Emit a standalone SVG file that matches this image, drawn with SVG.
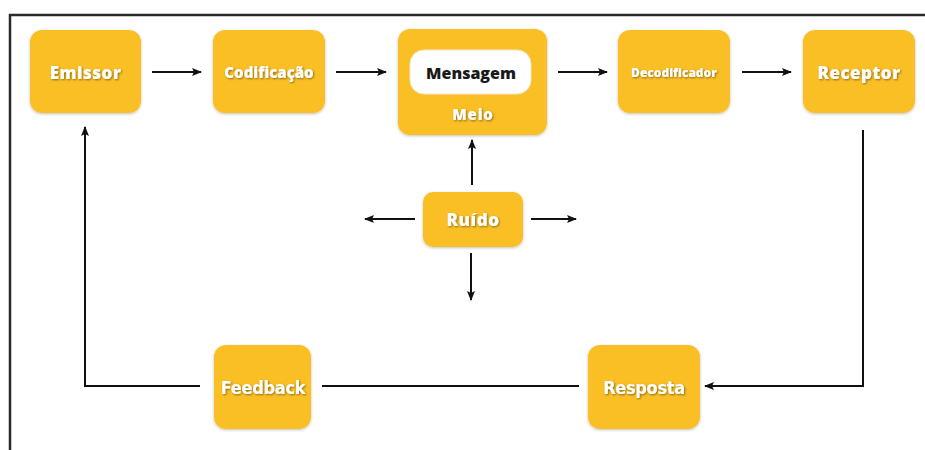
<svg xmlns="http://www.w3.org/2000/svg" width="925" height="450" viewBox="0 0 925 450">
<defs>
<marker id="ah" viewBox="0 0 10 10" refX="9" refY="5" markerWidth="10" markerHeight="10" markerUnits="userSpaceOnUse" orient="auto">
<path d="M0,1 L10,5 L0,9 L2,5 Z" fill="#111"/>
</marker>
<filter id="sh" x="-10%" y="-10%" width="130%" height="130%">
<feGaussianBlur in="SourceAlpha" stdDeviation="1.5"/>
<feOffset dx="0" dy="1" result="b"/>
<feComponentTransfer><feFuncA type="linear" slope="0.25"/></feComponentTransfer>
<feMerge><feMergeNode/><feMergeNode in="SourceGraphic"/></feMerge>
</filter>
<filter id="ts" x="-10%" y="-30%" width="130%" height="160%">
<feGaussianBlur in="SourceAlpha" stdDeviation="0.8"/>
<feOffset dx="0.8" dy="1.2" result="b"/>
<feComponentTransfer><feFuncA type="linear" slope="0.45"/></feComponentTransfer>
<feMerge><feMergeNode/><feMergeNode in="SourceGraphic"/></feMerge>
</filter>
</defs>
<style>
.box{fill:#FBBF26;filter:url(#sh)}
.lbl{font-family:"Open Sans",Lato,"DejaVu Sans",sans-serif;font-weight:800;fill:#fff;text-anchor:middle;dominant-baseline:central;filter:url(#ts)}
.cond{font-family:"DejaVu Sans Condensed","Open Sans",sans-serif;font-weight:700;letter-spacing:-0.3px}
.ln{stroke:#111;stroke-width:2;fill:none}
.frame{stroke:#2a2a2a;stroke-width:2.5;fill:none}
</style>
<rect width="925" height="450" fill="#fff"/>
<path class="frame" d="M10,450 V15 H925"/>
<g id="emissor"><rect class="box" x="30" y="30" width="111" height="83" rx="12"/><text class="lbl" x="85.5" y="72" font-size="17" letter-spacing="0.5">Emissor</text></g>
<g id="codificacao"><rect class="box" x="213" y="30" width="112" height="83" rx="12"/><text class="lbl" x="269" y="72" font-size="15">Codificação</text></g>
<g id="meio"><rect class="box" x="398" y="29" width="149" height="106" rx="12"/>
<rect x="410" y="50" width="121" height="44" rx="14" fill="#fff" stroke="#f0e6c8" stroke-width="1"/>
<text x="471" y="73" font-family="'Open Sans',Lato,'DejaVu Sans',sans-serif" font-weight="800" font-size="16" fill="#1a1a1a" text-anchor="middle" dominant-baseline="central">Mensagem</text>
<text class="lbl" x="473" y="114" font-size="15" letter-spacing="0.8">Meio</text></g>
<g id="decodificador"><rect class="box" x="618" y="30" width="112" height="83" rx="12"/><text class="lbl" x="674" y="72" font-size="12">Decodificador</text></g>
<g id="receptor"><rect class="box" x="803" y="30" width="112" height="83" rx="12"/><text class="lbl" x="859" y="72" font-size="17" letter-spacing="0.5">Receptor</text></g>
<g id="ruido"><rect class="box" x="423" y="192" width="100" height="55" rx="10"/><text class="lbl" x="473" y="219" font-size="17" letter-spacing="0.6">Ruído</text></g>
<g id="feedback"><rect class="box" x="214" y="345" width="97" height="84" rx="12"/><text class="lbl cond" x="263" y="387" font-size="18">Feedback</text></g>
<g id="resposta"><rect class="box" x="588" y="345" width="112" height="84" rx="12"/><text class="lbl cond" x="644" y="387" font-size="18">Resposta</text></g>
<g id="connectors">
<line class="ln" x1="152" y1="72" x2="201" y2="72" marker-end="url(#ah)"/>
<line class="ln" x1="336" y1="72" x2="386" y2="72" marker-end="url(#ah)"/>
<line class="ln" x1="558" y1="72" x2="607" y2="72" marker-end="url(#ah)"/>
<line class="ln" x1="742" y1="72" x2="791" y2="72" marker-end="url(#ah)"/>
<line class="ln" x1="472" y1="185" x2="472" y2="140" marker-end="url(#ah)"/>
<line class="ln" x1="415" y1="219" x2="365" y2="219" marker-end="url(#ah)"/>
<line class="ln" x1="531" y1="219" x2="576" y2="219" marker-end="url(#ah)"/>
<line class="ln" x1="471" y1="253" x2="471" y2="300" marker-end="url(#ah)"/>
<polyline class="ln" points="863,130 863,386 705,386" marker-end="url(#ah)"/>
<line class="ln" x1="579" y1="386" x2="322" y2="386"/>
<polyline class="ln" points="200,386 85,386 85,127" marker-end="url(#ah)"/>
</g>
</svg>
